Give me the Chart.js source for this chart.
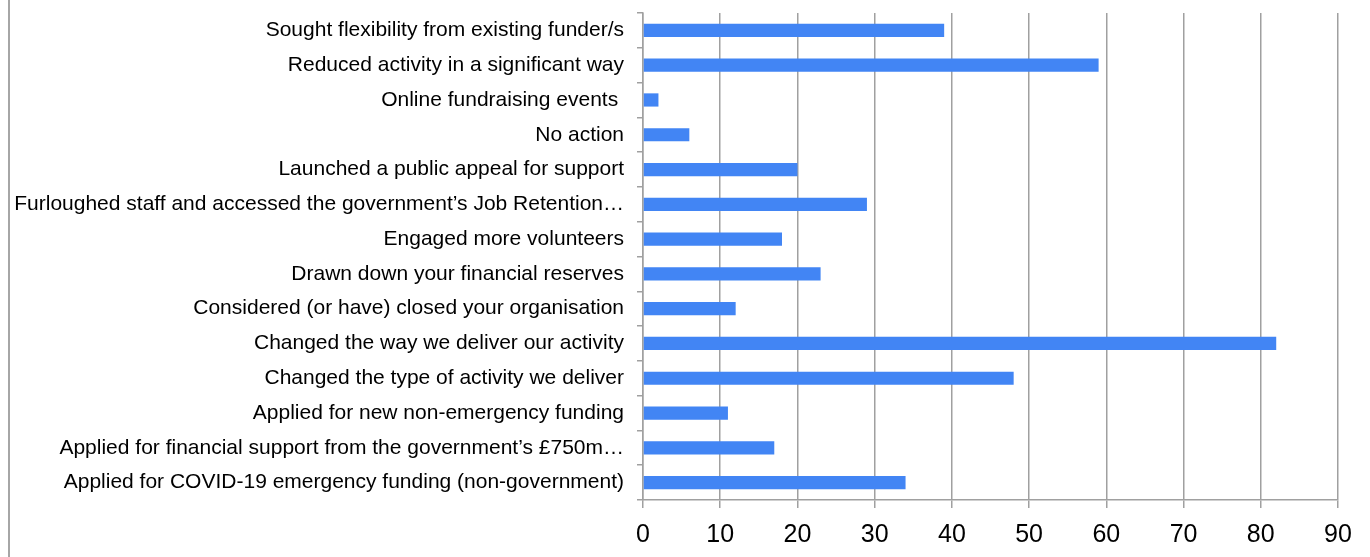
<!DOCTYPE html>
<html>
<head>
<meta charset="utf-8">
<script src="https://cdn.jsdelivr.net/npm/chart.js@4"></script>
<style>
    html, body { margin: 0; padding: 0; background: #fff; }
    #wrap {
        position: relative;
        width: 1370px;
        height: 557px;
    }
    #frame {
        position: absolute;
        left: 8px; top: 0; bottom: 0;
        border-left: 2px solid #a6a6a6;
    }
    canvas { display: block; }
</style>
</head>
<body>
<div id="wrap">
    <div id="frame"></div>
    <canvas id="actionsChart" width="1370" height="557"></canvas>
</div>
<script>
// Actions prises par les organisations
const categories = [
    'Sought flexibility from existing funder/s',
    'Reduced activity in a significant way',
    'Online fundraising events ',
    'No action',
    'Launched a public appeal for support',
    'Furloughed staff and accessed the government\u2019s Job Retention\u2026',
    'Engaged more volunteers',
    'Drawn down your financial reserves',
    'Considered (or have) closed your organisation',
    'Changed the way we deliver our activity',
    'Changed the type of activity we deliver',
    'Applied for new non-emergency funding',
    'Applied for financial support from the government\u2019s \u00a3750m\u2026',
    'Applied for COVID-19 emergency funding (non-government)'
];
const responses = [39, 59, 2, 6, 20, 29, 18, 23, 12, 82, 48, 11, 17, 34];
const xTicks = [0, 10, 20, 30, 40, 50, 60, 70, 80, 90];

const gridColor = '#a0a0a0';
const fontFamily = '"Liberation Sans", Arial, sans-serif';

new Chart(document.getElementById('actionsChart').getContext('2d'), {
    type: 'bar',
    data: {
        labels: categories,
        datasets: [{
            data: responses,
            backgroundColor: '#4285f4',
            borderWidth: 0,
            barPercentage: 0.38,
            categoryPercentage: 1
        }]
    },
    options: {
        indexAxis: 'y',
        responsive: false,
        animation: false,
        layout: { padding: { top: 13, right: 32, left: 0, bottom: 0 } },
        plugins: { legend: { display: false }, tooltip: { enabled: false } },
        scales: {
            x: {
                min: 0,
                max: 90,
                afterBuildTicks: function(scale) {
                    scale.ticks = xTicks.map(v => ({ value: v }));
                },
                afterFit: function(scale) {
                    scale.height = 57;
                    scale.paddingLeft = 0;
                    scale.paddingRight = 0;
                },
                grid: { color: gridColor, lineWidth: 1.5, tickLength: 8 },
                border: { color: gridColor, width: 1.5 },
                ticks: {
                    color: '#000',
                    padding: 12,
                    font: { family: fontFamily, size: 25 }
                }
            },
            y: {
                afterFit: function(scale) {
                    scale.width = 643;
                    scale.paddingTop = 0;
                    scale.paddingBottom = 0;
                },
                grid: { drawOnChartArea: false, color: gridColor, lineWidth: 1.5, tickLength: 6 },
                border: { color: gridColor, width: 1.5 },
                ticks: {
                    color: '#000',
                    padding: 13,
                    autoSkip: false,
                    font: { family: fontFamily, size: 21 }
                }
            }
        }
    }
});
</script>
</body>
</html>
